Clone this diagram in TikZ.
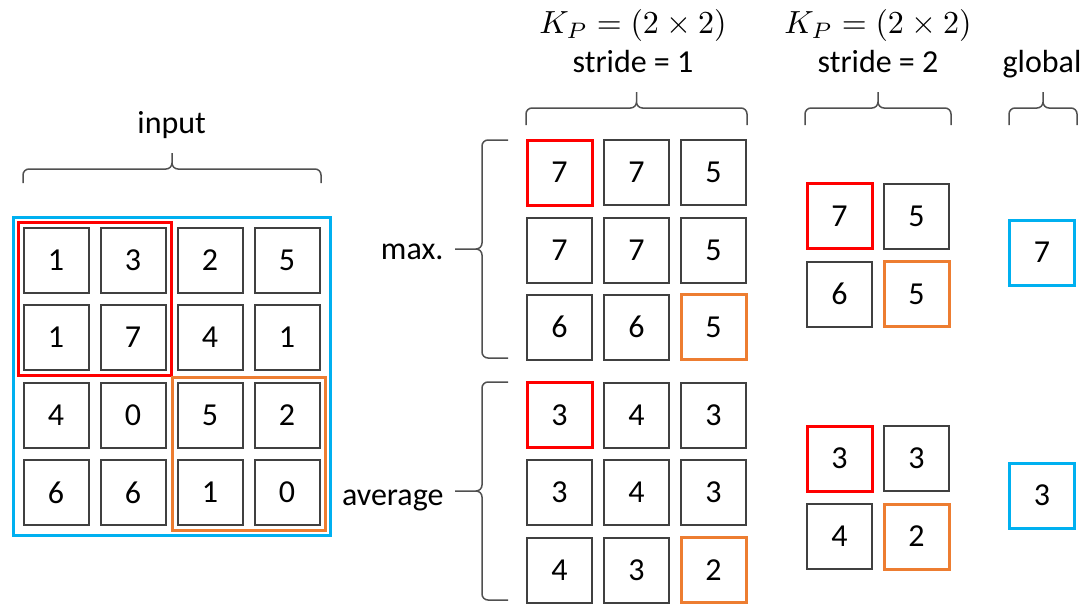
\documentclass[tikz,border=0pt]{standalone}
\usepackage{graphicx}
\usepackage{fontspec}
\setmainfont{Carlito}
\usetikzlibrary{fit}

\definecolor{cellgray}{HTML}{404040}
\definecolor{bracegray}{HTML}{505050}
\definecolor{poolred}{HTML}{FF0000}
\definecolor{poolorange}{HTML}{ED7D31}
\definecolor{poolblue}{HTML}{00B0F0}

\newcommand{\kernelsize}{\scalebox{3.2}{\normalsize$K_P = (2\times 2)$}}

\begin{document}
\begin{tikzpicture}[x=1pt,y=-1pt,font=\fontsize{32}{38}\selectfont,
    cell/.style={draw=cellgray,line width=2pt,minimum size=65pt,inner sep=0pt},
    redcell/.style={cell,draw=poolred,line width=3pt},
    orangecell/.style={cell,draw=poolorange,line width=3pt},
    bluecell/.style={cell,draw=poolblue,line width=3pt},
    window/.style={draw=#1,line width=3pt,inner sep=4.5pt},
    brace/.style={draw=bracegray,line width=1.5pt,rounded corners=6pt}]
  \useasboundingbox (0,0) rectangle (1086,605);

  % input map
  \draw
    (56,260) node[cell] (i11){1}
    (133,260) node[cell] (i12){3}
    (210,260) node[cell] (i13){2}
    (287,260) node[cell] (i14){5}
    (56,337.5) node[cell] (i21){1}
    (133,337.5) node[cell] (i22){7}
    (210,337.5) node[cell] (i23){4}
    (287,337.5) node[cell] (i24){1}
    (56,415) node[cell] (i31){4}
    (133,415) node[cell] (i32){0}
    (210,415) node[cell] (i33){5}
    (287,415) node[cell] (i34){2}
    (56,492.5) node[cell] (i41){6}
    (133,492.5) node[cell] (i42){6}
    (210,492.5) node[cell] (i43){1}
    (287,492.5) node[cell] (i44){0};
  \node[window=poolred,fit=(i11)(i22)] (winred){};
  \node[window=poolorange,fit=(i33)(i44)] (winorange){};
  \node[window=poolblue,inner sep=9.5pt,fit=(i11)(i44)] (winblue){};

  % stride 1
  \draw
    (559.5,172.5) node[redcell] (m11){7}
    (636.5,172.5) node[cell] (m12){7}
    (713.5,172.5) node[cell] (m13){5}
    (559.5,250) node[cell] (m21){7}
    (636.5,250) node[cell] (m22){7}
    (713.5,250) node[cell] (m23){5}
    (559.5,327) node[cell] (m31){6}
    (636.5,327) node[cell] (m32){6}
    (713.5,327) node[orangecell] (m33){5};
  \draw
    (559.5,415) node[redcell] (a11){3}
    (636.5,415) node[cell] (a12){4}
    (713.5,415) node[cell] (a13){3}
    (559.5,492.5) node[cell] (a21){3}
    (636.5,492.5) node[cell] (a22){4}
    (713.5,492.5) node[cell] (a23){3}
    (559.5,570) node[cell] (a31){4}
    (636.5,570) node[cell] (a32){3}
    (713.5,570) node[orangecell] (a33){2};

  % stride 2
  \draw
    (839.5,216) node[redcell] (ms11){7}
    (916.5,216) node[cell] (ms12){5}
    (839.5,294) node[cell] (ms21){6}
    (916.5,294) node[orangecell] (ms22){5}
    (839.5,458.5) node[redcell] (as11){3}
    (916.5,458.5) node[cell] (as12){3}
    (839.5,536.5) node[cell] (as21){4}
    (916.5,536.5) node[orangecell] (as22){2};

  % global
  \draw
    (1042,252.5) node[bluecell] (mg){7}
    (1042,495.5) node[bluecell] (ag){3};

  % labels
  \node[anchor=base] (input) at (171.7,133.3) {input};
  \node[anchor=base] (kp1) at (633,33.3) {\kernelsize};
  \node[anchor=base] (stride1) at (633,72.7) {stride = 1};
  \node[anchor=base] (kp2) at (878,33.3) {\kernelsize};
  \node[anchor=base] (stride2) at (878,72.7) {stride = 2};
  \node[anchor=base] (global) at (1042,72.7) {global};
  \node[anchor=base east] (max) at (447,259.3) {max.};
  \node[anchor=base east] (avg) at (447,505.7) {average};

  % braces
  \draw[brace] (23,183) -- (23,169) -- (172,169) -- (172,153)
    (321,183) -- (321,169) -- (172,169) -- (172,153);
  \draw[brace] (526,125) -- (526,108) -- (636.5,108) -- (636.5,92)
    (747,125) -- (747,108) -- (636.5,108) -- (636.5,92);
  \draw[brace] (805,125) -- (805,108) -- (878,108) -- (878,92)
    (951,125) -- (951,108) -- (878,108) -- (878,92);
  \draw[brace] (1009,125) -- (1009,108) -- (1043,108) -- (1043,92)
    (1077,125) -- (1077,108) -- (1043,108) -- (1043,92);
  \draw[brace] (508,140) -- (482,140) -- (482,249) -- (455,249)
    (508,358) -- (482,358) -- (482,249) -- (455,249);
  \draw[brace] (508,382) -- (482,382) -- (482,491) -- (455,491)
    (508,600) -- (482,600) -- (482,491) -- (455,491);
\end{tikzpicture}
\end{document}
